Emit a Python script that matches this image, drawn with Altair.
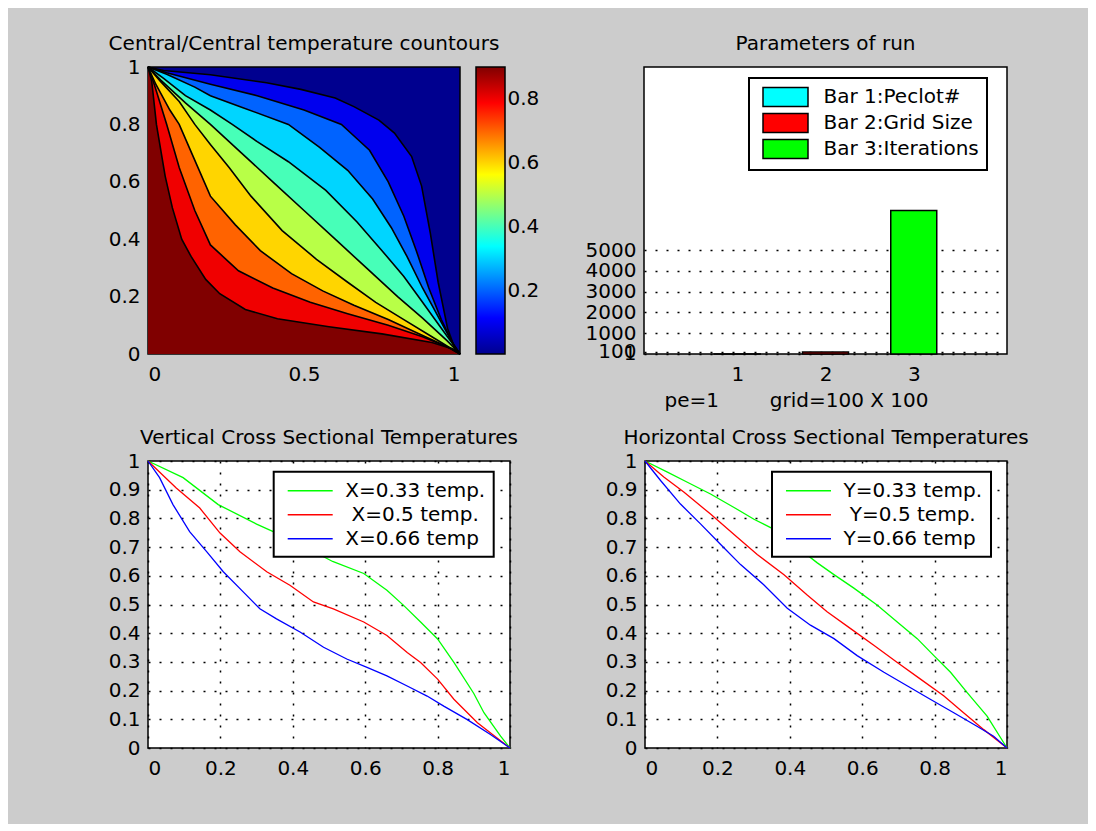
import altair as alt
import pandas as pd

FONT = "DejaVu Sans"
BG = "#cccccc"

# ---------------- contour plot (Central/Central temperature contours) ----------------
# contour lines, from the coolest (top-right) to the hottest (bottom-left)
c1_x = [0, 0.05, 0.2, 0.38, 0.49, 0.6, 0.66, 0.74, 0.79, 0.845, 0.877, 0.905, 0.93, 0.96, 0.985, 1]
c1_y = [1, 0.988, 0.973, 0.945, 0.922, 0.892, 0.862, 0.815, 0.77, 0.688, 0.585, 0.42, 0.25, 0.09, 0.015, 0]
c2_x = [0, 0.06, 0.2, 0.35, 0.5, 0.62, 0.67, 0.71, 0.77, 0.82, 0.86, 0.9, 0.94, 0.98, 1]
c2_y = [1, 0.98, 0.94, 0.9, 0.85, 0.8, 0.75, 0.71, 0.6, 0.48, 0.36, 0.23, 0.12, 0.03, 0]
c3_x = [0, 0.06, 0.15, 0.2, 0.3, 0.45, 0.55, 0.64, 0.72, 0.78, 0.83, 0.88, 0.93, 0.97, 1]
c3_y = [1, 0.975, 0.93, 0.9, 0.86, 0.8, 0.72, 0.64, 0.54, 0.44, 0.34, 0.23, 0.13, 0.05, 0]
c4_x = [0, 0.05, 0.12, 0.2, 0.27, 0.35, 0.45, 0.57, 0.67, 0.75, 0.82, 0.88, 0.94, 0.98, 1]
c4_y = [1, 0.96, 0.9, 0.85, 0.8, 0.74, 0.67, 0.57, 0.46, 0.36, 0.27, 0.18, 0.09, 0.03, 0]
c5_x = [0, 0.04, 0.12, 0.2, 0.3, 0.4, 0.5, 0.6, 0.7, 0.8, 0.88, 0.96, 1]
c5_y = [1, 0.955, 0.875, 0.8, 0.7, 0.6, 0.5, 0.4, 0.3, 0.2, 0.125, 0.045, 0]
c6_x = [0, 0.04, 0.1, 0.15, 0.2, 0.26, 0.33, 0.43, 0.54, 0.64, 0.73, 0.82, 0.91, 0.97, 1]
c6_y = [1, 0.95, 0.88, 0.8, 0.73, 0.65, 0.55, 0.43, 0.33, 0.25, 0.18, 0.12, 0.06, 0.02, 0]
c7_x = [0, 0.025, 0.07, 0.1, 0.14, 0.2, 0.28, 0.36, 0.46, 0.56, 0.66, 0.77, 0.87, 0.95, 1]
c7_y = [1, 0.94, 0.85, 0.8, 0.7, 0.55, 0.45, 0.36, 0.28, 0.22, 0.17, 0.12, 0.07, 0.03, 0]
c8_x = [0, 0.02, 0.06, 0.1, 0.15, 0.2, 0.25, 0.29, 0.4, 0.52, 0.64, 0.77, 0.88, 0.97, 1]
c8_y = [1, 0.94, 0.8, 0.65, 0.5, 0.38, 0.33, 0.29, 0.23, 0.18, 0.14, 0.1, 0.06, 0.02, 0]
c9_x = [0, 0.012, 0.027, 0.055, 0.078, 0.108, 0.138, 0.185, 0.23, 0.312, 0.415, 0.58, 0.75, 0.91, 0.985, 1]
c9_y = [1, 0.95, 0.8, 0.62, 0.51, 0.4, 0.34, 0.26, 0.21, 0.155, 0.123, 0.095, 0.07, 0.04, 0.015, 0]
contour_xs = [c1_x, c2_x, c3_x, c4_x, c5_x, c6_x, c7_x, c8_x, c9_x]
contour_ys = [c1_y, c2_y, c3_y, c4_y, c5_y, c6_y, c7_y, c8_y, c9_y]
# fill colour of the region above line 1, then below each line in turn
band_colors = ["#00008F", "#0000EE", "#0063FF", "#00D5FF", "#47FFB8",
               "#B8FF47", "#FFD500", "#FF6300", "#F00000", "#800000"]
contour_xticks = [0, 0.5, 1]
contour_yticks = [0, 0.2, 0.4, 0.6, 0.8, 1]

# colorbar (jet)
cbar_offsets = [0, 0.125, 0.375, 0.625, 0.875, 1]
cbar_colors = ["#00008F", "#0000FF", "#00FFFF", "#FFFF00", "#FF0000", "#800000"]
cbar_range = [0.0, 0.9]
cbar_ticks = [0.2, 0.4, 0.6, 0.8]

# ---------------- bar chart (Parameters of run) ----------------
bar_pos = [1, 2, 3]
bar_vals = [1, 100, 6900]
bar_labels = ["Bar 1:Peclot#", "Bar 2:Grid Size", "Bar 3:Iterations"]
bar_colors = ["#00FFFF", "#FF0000", "#00FF00"]
bar_yticks = [1, 100, 1000, 2000, 3000, 4000, 5000]
bar_xticks = [1, 2, 3]
bar_xdomain = [0, 4]
bar_ydomain = [0, 13800]
bar_xtitle = "pe=1" + "\u00a0" * 8 + "grid=100 X 100"

# ---------------- cross sections ----------------
line_ticks_x = [0, 0.2, 0.4, 0.6, 0.8, 1]
line_ticks_y = [0, 0.1, 0.2, 0.3, 0.4, 0.5, 0.6, 0.7, 0.8, 0.9, 1]
line_colors = ["#00FF00", "#FF0000", "#0000FF"]

v_names = ["X=0.33 temp.", "\u2060\u00a0X=0.5 temp.", "X=0.66 temp"]
v33_x = [0, 0.097, 0.194, 0.30, 0.346, 0.42, 0.51, 0.596, 0.66, 0.706, 0.753, 0.80, 0.845, 0.9, 0.928, 0.974, 1]
v33_y = [1, 0.942, 0.848, 0.78, 0.754, 0.71, 0.65, 0.608, 0.55, 0.497, 0.439, 0.38, 0.298, 0.19, 0.123, 0.041, 0]
v50_x = [0, 0.078, 0.143, 0.199, 0.254, 0.328, 0.392, 0.457, 0.512, 0.596, 0.66, 0.716, 0.753, 0.80, 0.845, 0.91, 1]
v50_y = [1, 0.906, 0.836, 0.749, 0.684, 0.614, 0.567, 0.509, 0.485, 0.439, 0.392, 0.333, 0.298, 0.24, 0.17, 0.088, 0]
v66_x = [0, 0.032, 0.069, 0.115, 0.162, 0.208, 0.263, 0.309, 0.355, 0.42, 0.485, 0.549, 0.605, 0.66, 0.716, 0.771, 0.817, 0.882, 0.946, 1]
v66_y = [1, 0.942, 0.848, 0.754, 0.684, 0.614, 0.544, 0.485, 0.45, 0.404, 0.351, 0.31, 0.281, 0.251, 0.216, 0.181, 0.146, 0.099, 0.047, 0]

h_names = ["Y=0.33 temp.", "\u2060\u00a0Y=0.5 temp.", "Y=0.66 temp"]
h33_x = [0, 0.062, 0.117, 0.181, 0.246, 0.301, 0.347, 0.41, 0.476, 0.522, 0.577, 0.641, 0.696, 0.752, 0.798, 0.844, 0.89, 0.945, 1]
h33_y = [1, 0.961, 0.926, 0.885, 0.838, 0.797, 0.768, 0.71, 0.645, 0.604, 0.557, 0.498, 0.44, 0.381, 0.322, 0.264, 0.193, 0.111, 0]
h50_x = [0, 0.052, 0.108, 0.181, 0.246, 0.31, 0.384, 0.448, 0.503, 0.568, 0.632, 0.696, 0.761, 0.825, 0.88, 0.936, 1]
h50_y = [1, 0.944, 0.891, 0.815, 0.744, 0.674, 0.604, 0.533, 0.475, 0.416, 0.358, 0.299, 0.24, 0.182, 0.123, 0.064, 0]
h66_x = [0, 0.043, 0.098, 0.154, 0.209, 0.264, 0.328, 0.393, 0.457, 0.522, 0.586, 0.66, 0.724, 0.788, 0.853, 0.917, 0.963, 1]
h66_y = [1, 0.932, 0.85, 0.78, 0.709, 0.639, 0.569, 0.487, 0.428, 0.381, 0.322, 0.264, 0.217, 0.17, 0.123, 0.076, 0.041, 0]

# ---------------- layout (pixels) ----------------
H_TOP = 287
W_CONTOUR = 312
W_CBAR = 29
W_BAR = 363
W_LINE = 362
GAP = 16
W_SPACER1 = 107
W_SPACER2 = 103
ROW_GAP = 16
FRAME_W = 1.5

DOT = [2, 9]


def axis_common(**kw):
    base = dict(labelFont=FONT, labelFontSize=20, labelColor="black", ticks=False,
                domain=False, title=None, format="~g", labelOverlap=False, grid=False)
    base.update(kw)
    return alt.Axis(**base)


unit01 = alt.Scale(domain=[0, 1], nice=False, zero=False)

# ---- contour chart ----
cx = alt.X("x:Q", scale=unit01, axis=axis_common(values=contour_xticks, labelPadding=10))
cy = alt.Y("y:Q", scale=unit01, axis=axis_common(values=contour_yticks, labelPadding=8))

layers = []
for k in range(len(contour_xs)):
    dfk = pd.DataFrame({"x": contour_xs[k], "y": contour_ys[k]})
    layers.append(alt.Chart(dfk).mark_area(color=band_colors[k + 1], opacity=1,
                                           interpolate="linear").encode(x=cx, y=cy))
line_frames = []
for k in range(len(contour_xs)):
    line_frames.append(pd.DataFrame({"x": contour_xs[k], "y": contour_ys[k],
                                     "level": k, "idx": range(len(contour_xs[k]))}))
contour_lines_df = pd.concat(line_frames, ignore_index=True)
layers.append(alt.Chart(contour_lines_df).mark_line(color="black", strokeWidth=1.6).encode(
    x=cx, y=cy, detail="level:N", order="idx:Q"))

contour = alt.layer(*layers).properties(
    width=W_CONTOUR, height=H_TOP,
    title="Central/Central temperature countours",
    view=alt.ViewBackground(fill=band_colors[0], stroke="black", strokeWidth=FRAME_W),
)

# ---- colorbar ----
cbar_df = pd.DataFrame({"lo": [cbar_range[0]], "hi": [cbar_range[1]], "x0": [0], "x1": [1]})
grad = alt.Gradient(
    gradient="linear",
    stops=[alt.GradientStop(color=c, offset=o) for c, o in zip(cbar_colors, cbar_offsets)],
    x1=0, x2=0, y1=1, y2=0,
)
colorbar = alt.Chart(cbar_df).mark_rect(color=grad, stroke="black", strokeWidth=FRAME_W).encode(
    x=alt.X("x0:Q", scale=unit01, axis=None),
    x2="x1:Q",
    y=alt.Y("lo:Q", scale=alt.Scale(domain=cbar_range, nice=False, zero=False),
            axis=axis_common(orient="right", values=cbar_ticks, labelPadding=2)),
    y2="hi:Q",
).properties(width=W_CBAR, height=H_TOP, view=alt.ViewBackground(stroke="transparent"))


def spacer(w, h):
    return alt.Chart(pd.DataFrame({"s": [0]})).mark_point(opacity=0).encode(
        x=alt.X("s:Q", axis=None, scale=unit01), y=alt.Y("s:Q", axis=None, scale=unit01)
    ).properties(width=w, height=h, view=alt.ViewBackground(stroke="transparent"))


# ---- bar chart ----
bar_df = pd.DataFrame({"pos": bar_pos, "value": bar_vals, "label": bar_labels})
bar = alt.Chart(bar_df).mark_bar(size=46, stroke="black", strokeWidth=1.5).encode(
    x=alt.X("pos:Q", scale=alt.Scale(domain=bar_xdomain, nice=False, zero=False),
            axis=axis_common(values=bar_xticks, labelPadding=10, title=bar_xtitle,
                             titleFont=FONT, titleFontSize=20, titleFontWeight="normal",
                             titleColor="black", titleX=152, titleY=46,
                             titleBaseline="middle", titleAlign="center")),
    y=alt.Y("value:Q", scale=alt.Scale(domain=bar_ydomain, nice=False),
            axis=axis_common(values=bar_yticks, labelPadding=8, grid=True, format="d",
                             gridColor="black", gridDash=DOT, gridWidth=1.5)),
    color=alt.Color("label:N", scale=alt.Scale(domain=bar_labels, range=bar_colors),
                    legend=alt.Legend(title=None, orient="none", legendX=105, legendY=11,
                                      fillColor="white", strokeColor="black", padding=8,
                                      labelFont=FONT, labelFontSize=20, labelColor="black",
                                      labelLimit=400,
                                      symbolType="M-2.25,-0.95H2.25V0.95H-2.25Z",
                                      symbolSize=400, symbolStrokeColor="black",
                                      symbolStrokeWidth=1.5, symbolOffset=17.5,
                                      labelOffset=27, rowPadding=0)),
).properties(width=W_BAR, height=H_TOP,
             title=alt.TitleParams("Parameters of run", offset=13),
             view=alt.ViewBackground(fill="white", stroke="black", strokeWidth=FRAME_W))


# ---- cross section charts ----
def cross_chart(title, names, xs, ys, legend_x):
    frames = []
    for n, xl, yl in zip(names, xs, ys):
        frames.append(pd.DataFrame({"x": xl, "y": yl, "series": n, "idx": range(len(xl))}))
    df = pd.concat(frames, ignore_index=True)
    return alt.Chart(df).mark_line(strokeWidth=1.3).encode(
        x=alt.X("x:Q", scale=unit01,
                axis=axis_common(values=line_ticks_x, labelPadding=10, grid=True,
                                 gridColor="black", gridDash=DOT, gridWidth=1.5)),
        y=alt.Y("y:Q", scale=unit01,
                axis=axis_common(values=line_ticks_y, labelPadding=8, grid=True,
                                 gridColor="black", gridDash=DOT, gridWidth=1.5)),
        color=alt.Color("series:N", scale=alt.Scale(domain=names, range=line_colors),
                        legend=alt.Legend(title=None, orient="none", legendX=legend_x,
                                          legendY=10.7, fillColor="white",
                                          strokeColor="black", padding=8,
                                          labelFont=FONT, labelFontSize=20,
                                          labelColor="black", labelLimit=400,
                                          symbolType="M-2.25,0H2.25", symbolSize=400,
                                          symbolStrokeWidth=1.5, symbolOffset=17.5,
                                          labelOffset=24, rowPadding=3)),
        order="idx:Q",
    ).properties(width=W_LINE, height=H_TOP, title=title,
                 view=alt.ViewBackground(fill="white", stroke="black", strokeWidth=FRAME_W))


vert = cross_chart("Vertical Cross Sectional Temperatures", v_names,
                   [v33_x, v50_x, v66_x], [v33_y, v50_y, v66_y], 125.7)
horiz = cross_chart("Horizontal Cross Sectional Temperatures", h_names,
                    [h33_x, h50_x, h66_x], [h33_y, h50_y, h66_y], 127)

row1 = alt.hconcat(contour, colorbar, spacer(W_SPACER1, H_TOP), bar,
                   spacing=GAP, bounds="flush").resolve_scale(
    color="independent").resolve_legend(color="independent")
row2 = alt.hconcat(vert, spacer(W_SPACER2, H_TOP), horiz,
                   spacing=GAP, bounds="flush").resolve_scale(
    color="independent").resolve_legend(color="independent")

chart = alt.vconcat(row1, row2, spacing=ROW_GAP).resolve_scale(
    color="independent"
).resolve_legend(color="independent").properties(
    background=BG,
    padding={"left": 99, "top": 25, "right": 58, "bottom": 45},
).configure_title(
    font=FONT, fontSize=20, fontWeight="normal", color="black", offset=3,
    frame="group", anchor="middle",
).configure_legend(strokeWidth=2)

chart.save("out.html", embed_options={"renderer": "svg", "actions": False})
